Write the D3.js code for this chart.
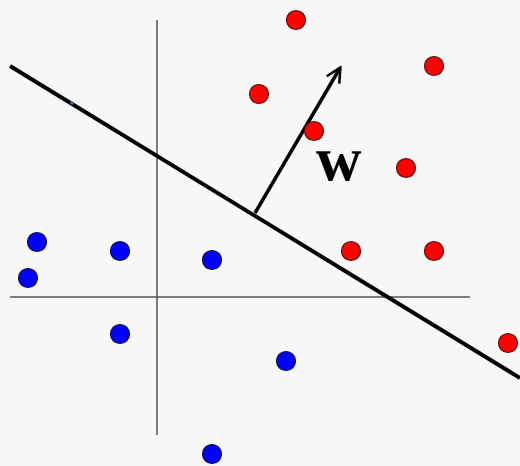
<!DOCTYPE html>
<html>
<head>
<meta charset="utf-8">
<script src="https://cdn.jsdelivr.net/npm/d3@7"></script>
<style>
  body { margin: 0; background: #f8f8f8; }
  svg { display: block; }
</style>
</head>
<body>
<script>
let width = 520
let height = 466

// points, axis origin at the crossing of the two thin lines
const redPoints = [[13.9, 27.7], [27.7, 23.1], [10.2, 20.3], [15.7, 16.6], [24.9, 12.9], [19.4, 4.6], [27.7, 4.6], [35.1, -4.6]]
const bluePoints = [[-12.0, 5.5], [-12.9, 1.9], [-3.7, 4.6], [5.5, 3.7], [-3.7, -3.7], [12.9, -6.4], [5.5, -15.7]]

const xAxisExtent = [-14.7, 31.3]
const yAxisExtent = [-13.8, 27.7]
const boundary = [[-14.7, 23.1], [36.3, -8.1]]
const wVector = [[9.8, 8.4], [18.3, 22.9]]
const wLabel = 'w'

const x = d3.scaleLinear().domain([-14.7, 36.3]).range([10, 520])
const y = d3.scaleLinear().domain([29.7, -16.9]).range([0, 466])

const svg = d3.select('body')
  .append('svg')
  .attr('width', width)
  .attr('height', height)

svg.append('rect')
  .attr('width', width)
  .attr('height', height)
  .attr('fill', '#f8f8f8')

svg.append('defs')
  .append('marker')
  .attr('id', 'head')
  .attr('viewBox', '0 0 10 10')
  .attr('refX', 8.6)
  .attr('refY', 5)
  .attr('markerWidth', 5.2)
  .attr('markerHeight', 5.2)
  .attr('markerUnits', 'strokeWidth')
  .attr('orient', 'auto')
  .append('path')
  .attr('d', 'M1,1 L9,5 L1,9')
  .attr('fill', 'none')
  .attr('stroke', '#000')
  .attr('stroke-width', 1.4)
  .attr('stroke-linejoin', 'miter')

// thin axes
svg.append('line')
  .attr('x1', x(xAxisExtent[0])).attr('x2', x(xAxisExtent[1]))
  .attr('y1', y(0)).attr('y2', y(0))
  .attr('stroke', '#555').attr('stroke-width', 1.5)

svg.append('line')
  .attr('x1', x(0)).attr('x2', x(0))
  .attr('y1', y(yAxisExtent[0])).attr('y2', y(yAxisExtent[1]))
  .attr('stroke', '#555').attr('stroke-width', 1.5)

// decision boundary
svg.append('line')
  .attr('x1', x(boundary[0][0])).attr('y1', y(boundary[0][1]))
  .attr('x2', x(boundary[1][0])).attr('y2', y(boundary[1][1]))
  .attr('stroke', '#000').attr('stroke-width', 4)

// small blue speck on the line
svg.append('circle')
  .attr('cx', x(-8.5)).attr('cy', y(19.4))
  .attr('r', 1.8).attr('fill', '#3a6fc8')

// normal vector
svg.append('line')
  .attr('x1', x(wVector[0][0])).attr('y1', y(wVector[0][1]))
  .attr('x2', x(wVector[1][0])).attr('y2', y(wVector[1][1]))
  .attr('stroke', '#000').attr('stroke-width', 3.5)
  .attr('marker-end', 'url(#head)')

svg.append('text')
  .attr('x', x(15.9)).attr('y', y(11.7))
  .attr('font-family', '"Liberation Serif", "Times New Roman", serif')
  .attr('font-weight', 'bold')
  .attr('font-size', 63)
  .attr('fill', '#000')
  .text(wLabel)

svg.append('g')
  .selectAll('circle')
  .data(redPoints)
  .join('circle')
  .attr('cx', d => x(d[0]))
  .attr('cy', d => y(d[1]))
  .attr('r', 9.5)
  .attr('fill', '#ff0000')
  .attr('stroke', '#5a1010')
  .attr('stroke-width', 1.2)

svg.append('g')
  .selectAll('circle')
  .data(bluePoints)
  .join('circle')
  .attr('cx', d => x(d[0]))
  .attr('cy', d => y(d[1]))
  .attr('r', 9.5)
  .attr('fill', '#0000ff')
  .attr('stroke', '#101040')
  .attr('stroke-width', 1.2)
</script>
</body>
</html>
